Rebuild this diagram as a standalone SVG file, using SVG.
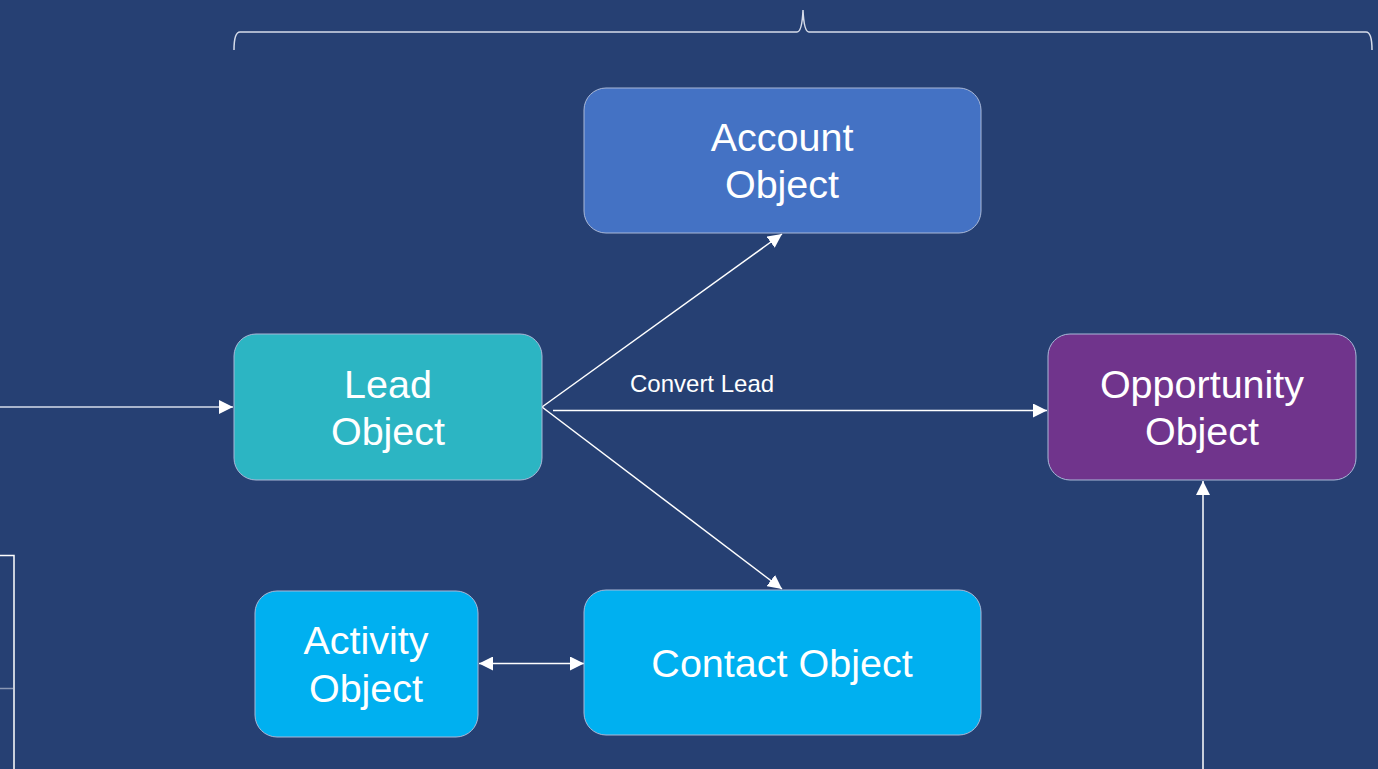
<svg xmlns="http://www.w3.org/2000/svg" width="1378" height="769" viewBox="0 0 1378 769">
  <style>
    .box { stroke: #a9b8d8; stroke-width: 1; }
    .label { font-family: "Liberation Sans", Arial, sans-serif; font-size: 39.5px; fill: #ffffff; text-anchor: middle; }
    .small { font-family: "Liberation Sans", Arial, sans-serif; font-size: 24px; fill: #ffffff; }
    .edge { stroke: #ffffff; stroke-width: 1.5; fill: none; }
    .thin { stroke: #d6dcea; stroke-width: 1.5; fill: none; }
  </style>
  <defs>
    <marker id="arrow" markerUnits="userSpaceOnUse" markerWidth="16" markerHeight="14" refX="14" refY="7" orient="auto-start-reverse">
      <path d="M0,0 L14,7 L0,14 Z" fill="#ffffff"/>
    </marker>
  </defs>

  <!-- background -->
  <rect x="0" y="0" width="1378" height="769" fill="#264073"/>

  <!-- bracket spanning the top -->
  <path class="thin" d="M234,50 Q234,32 240,32 L797,32 Q802,32 803,10 Q804,32 809,32 L1366,32 Q1372,32 1372,50"/>

  <!-- partial frame at the left edge -->
  <path d="M0,555.5 L14,555.5 L14,769" stroke="#ffffff" stroke-width="1.5" fill="none"/>
  <line x1="0" y1="688.5" x2="13" y2="688.5" stroke="#8a97b4" stroke-width="1.5"/>

  <!-- connectors -->
  <g id="connectors">
    <line class="thin" x1="0" y1="407" x2="233" y2="407" marker-end="url(#arrow)"/>
    <line class="edge" x1="542" y1="407" x2="782" y2="234" marker-end="url(#arrow)"/>
    <line class="edge" x1="542" y1="407" x2="782" y2="589" marker-end="url(#arrow)"/>
    <line class="edge" x1="553" y1="410.5" x2="1047" y2="410.5" marker-end="url(#arrow)"/>
    <text class="small" x="630" y="392">Convert Lead</text>
    <line class="edge" x1="479" y1="663.5" x2="584" y2="663.5" marker-start="url(#arrow)" marker-end="url(#arrow)"/>
    <line class="edge" x1="1203" y1="769" x2="1203" y2="481" marker-end="url(#arrow)"/>
  </g>

  <g id="account">
    <rect class="box" x="584" y="88" width="397" height="145" rx="22" fill="#4472C4"/>
    <text class="label" x="782" y="151">Account</text>
    <text class="label" x="782" y="198">Object</text>
  </g>

  <g id="lead">
    <rect class="box" x="234" y="334" width="308" height="146" rx="22" fill="#2CB5C3"/>
    <text class="label" x="388" y="398">Lead</text>
    <text class="label" x="388" y="445">Object</text>
  </g>

  <g id="opportunity">
    <rect class="box" x="1048" y="334" width="308" height="146" rx="22" fill="#70348C"/>
    <text class="label" x="1202" y="398">Opportunity</text>
    <text class="label" x="1202" y="445">Object</text>
  </g>

  <g id="activity">
    <rect class="box" x="255" y="591" width="223" height="146" rx="22" fill="#00B0F0"/>
    <text class="label" x="366" y="654">Activity</text>
    <text class="label" x="366" y="702">Object</text>
  </g>

  <g id="contact">
    <rect class="box" x="584" y="590" width="397" height="145" rx="22" fill="#00B0F0"/>
    <text class="label" x="782" y="677">Contact Object</text>
  </g>
</svg>
